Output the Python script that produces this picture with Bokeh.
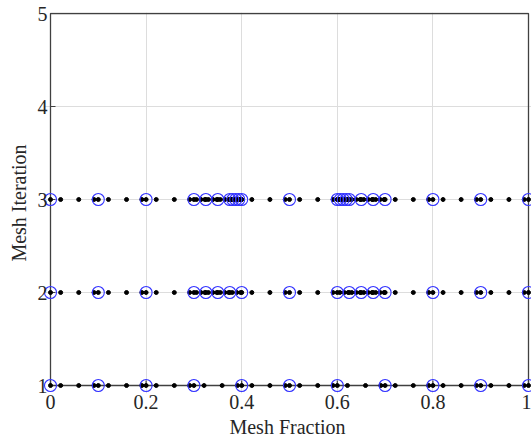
from bokeh.plotting import figure
from bokeh.models import Range1d, FixedTicker
from bokeh.embed import file_html
from bokeh.resources import INLINE

# Mesh points (interval boundaries) per mesh iteration
mesh_iter1 = [0.0, 0.1, 0.2, 0.3, 0.4, 0.5, 0.6, 0.7, 0.8, 0.9, 1.0]
mesh_iter2 = [0.0, 0.1, 0.2, 0.3, 0.325, 0.35, 0.375, 0.4, 0.5, 0.6,
              0.625, 0.65, 0.675, 0.7, 0.8, 0.9, 1.0]
mesh_iter3 = [0.0, 0.1, 0.2, 0.3, 0.325, 0.35, 0.375, 0.38125, 0.3875,
              0.39375, 0.4, 0.5, 0.6, 0.60625, 0.6125, 0.61875, 0.625,
              0.65, 0.675, 0.7, 0.8, 0.9, 1.0]
meshes = [mesh_iter1, mesh_iter2, mesh_iter3]
iterations = [1, 2, 3]

# Collocation point locations within each interval (fraction of interval)
node_fractions = [0.0, 0.2123, 0.5905, 0.9114]

x_ticks = [0, 0.2, 0.4, 0.6, 0.8, 1]
x_tick_labels = {0: "0", 0.2: "0.2", 0.4: "0.4", 0.6: "0.6", 0.8: "0.8", 1: "1"}
y_ticks = [1, 2, 3, 4, 5]
x_lim = (0, 1)
y_lim = (1, 5)

circ_x, circ_y, dot_x, dot_y = [], [], [], []
for it, mesh in zip(iterations, meshes):
    for m in mesh:
        circ_x.append(m)
        circ_y.append(it)
    for a, b in zip(mesh[:-1], mesh[1:]):
        for f in node_fractions:
            dot_x.append(a + f * (b - a))
            dot_y.append(it)
    dot_x.append(mesh[-1])
    dot_y.append(it)

# frame geometry: data box spans 478 px (x) by 372 px (y); small padding so
# markers on the box edges are not clipped
px_x = 478.0
px_y = 372.0 / 4.0
pad_l, pad_r, pad_b, pad_t = 7, 3, 8, 1

p = figure(width=531, height=444, output_backend="svg", toolbar_location=None,
           x_range=Range1d(x_lim[0] - pad_l / px_x, x_lim[1] + pad_r / px_x),
           y_range=Range1d(y_lim[0] - pad_b / px_y, y_lim[1] + pad_t / px_y),
           min_border_left=50 - pad_l, min_border_right=0,
           min_border_top=13 - pad_t,
           min_border_bottom=444 - 13 - 372 - pad_b)
p.background_fill_color = "white"
p.border_fill_color = "white"
p.outline_line_color = None

font = "Liberation Serif"
p.xaxis.ticker = FixedTicker(ticks=x_ticks)
p.xaxis.major_label_overrides = x_tick_labels
p.yaxis.ticker = FixedTicker(ticks=y_ticks)
for ax in (p.xaxis[0], p.yaxis[0]):
    ax.axis_line_color = None
    ax.major_tick_line_color = None
    ax.minor_tick_line_color = None
    ax.major_tick_in = 0
    ax.major_tick_out = 0
    ax.minor_tick_in = 0
    ax.minor_tick_out = 0
    ax.major_label_text_font = font
    ax.major_label_text_font_size = "20px"
    ax.major_label_text_color = "#262626"
    ax.axis_label_text_font = font
    ax.axis_label_text_font_size = "20px"
    ax.axis_label_text_font_style = "normal"
    ax.axis_label_text_color = "#262626"
p.xaxis.major_label_standoff = 1
p.yaxis.major_label_standoff = -4
p.xaxis.axis_label_standoff = 4
p.yaxis.axis_label_standoff = 5

p.xgrid.ticker = FixedTicker(ticks=[0.2, 0.4, 0.6, 0.8])
p.ygrid.ticker = FixedTicker(ticks=[2, 3, 4])
p.xgrid.bounds = y_lim
p.ygrid.bounds = x_lim
p.grid.grid_line_color = "#dddddd"
p.grid.grid_line_width = 1
p.xaxis.axis_label = "Mesh Fraction"
p.yaxis.axis_label = "Mesh Iteration"

# axes box
p.quad(left=[x_lim[0]], right=[x_lim[1]], bottom=[y_lim[0]], top=[y_lim[1]],
       fill_color=None, line_color="#404040", line_width=1.3)

# inward tick marks on the left and bottom edges
tick_len_x = 5 / px_x
tick_len_y = 5 / px_y
p.segment(x0=[x_lim[0]] * len(y_ticks), y0=y_ticks,
          x1=[x_lim[0] + tick_len_x] * len(y_ticks), y1=y_ticks,
          line_color="#404040", line_width=1.2)
p.segment(x0=x_ticks, y0=[y_lim[0]] * len(x_ticks),
          x1=x_ticks, y1=[y_lim[0] + tick_len_y] * len(x_ticks),
          line_color="#404040", line_width=1.2)

p.scatter(dot_x, dot_y, size=4, color="black")
p.scatter(circ_x, circ_y, size=12, fill_color=None, line_color="#3333ff",
          line_width=1.1)

open("out.html", "w").write(file_html(p, INLINE))
